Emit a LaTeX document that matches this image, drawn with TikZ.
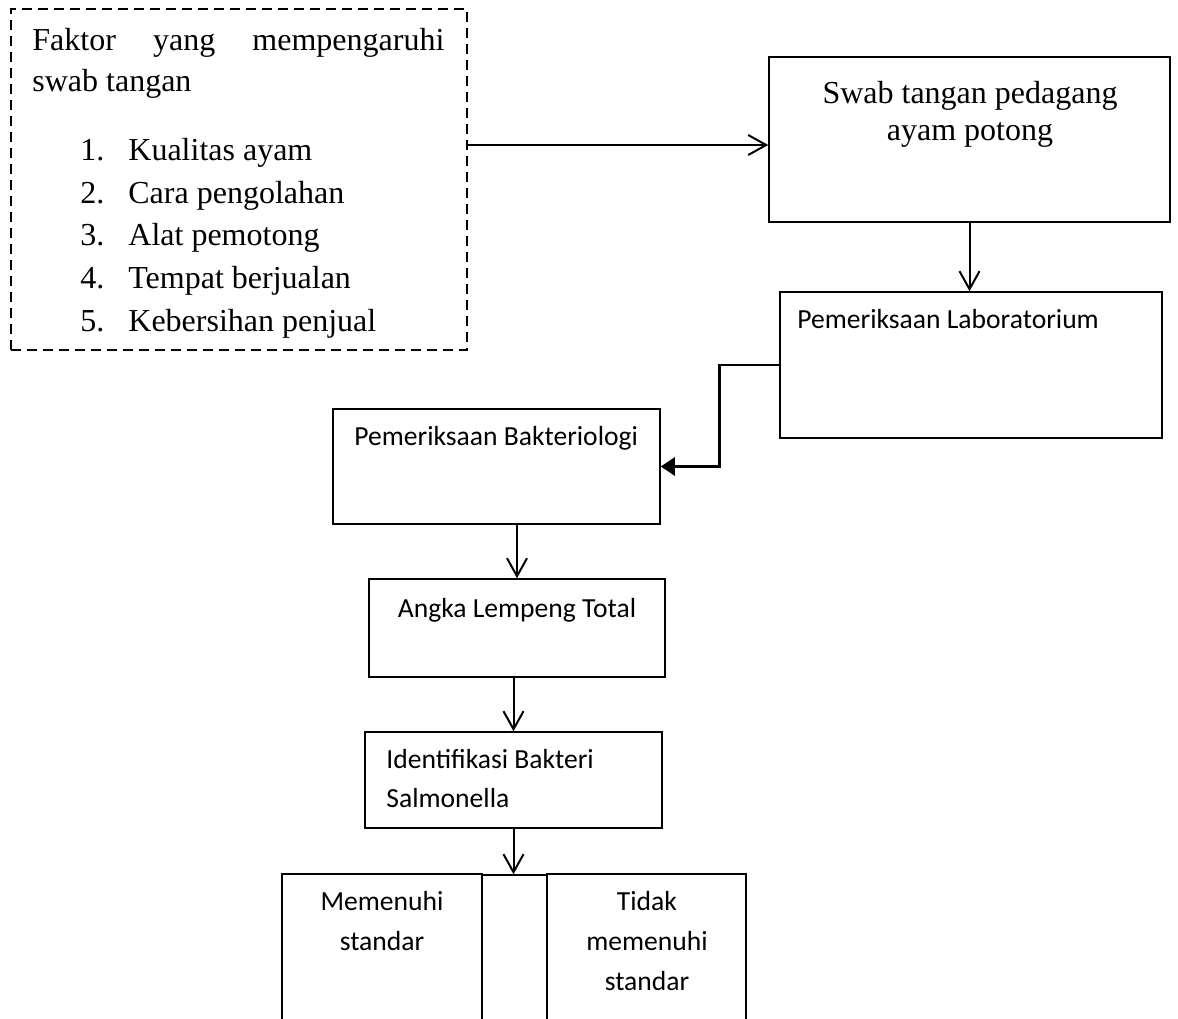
\documentclass[tikz,border=0pt]{standalone}
\usepackage{fontspec}
\setmainfont{Liberation Serif}
\newfontfamily\calibri{Carlito}
\usepackage{tikz}
\usetikzlibrary{arrows.meta}
\usetikzlibrary{fit}

\tikzset{
    box/.style={draw, line width=0.75pt, inner sep=0pt},
    dashbox/.style={draw, line width=0.8pt, dash pattern=on 5pt off 3pt, inner sep=0pt},
    serif/.style={inner sep=0pt, font=\fontsize{16}{21.3}\selectfont},
    sans/.style={inner sep=0pt, font=\calibri\fontsize{13.8}{20}\selectfont},
    arr/.style={line width=1pt, -{Straight Barb[length=9pt, width=10pt]}},
    elb/.style={line width=1.3pt, -{Triangle[length=7pt, width=9pt]}},
}

\begin{document}
\begin{tikzpicture}[x=0.5pt, y=-0.5pt]
        \useasboundingbox (0,0) rectangle (1178,1018);
        \clip (0,0) rectangle (1178,1018);
        % boxes
        \node [dashbox, fit={(11,9) (467,350)}] (fak) {};
        \node [box, fit={(769,57) (1170,222)}] (swab) {};
        \node [box, fit={(780,292) (1162,438)}] (lab) {};
        \node [box, fit={(333,409) (660,524)}] (bak) {};
        \node [box, fit={(369,579) (665,677)}] (alt) {};
        \node [box, fit={(365,732) (662,828)}] (idn) {};
        \node [box, fit={(282,874) (482,1040)}] (mem) {};
        \node [box, fit={(482,875) (547,1040)}] (mid) {};
        \node [box, fit={(547,874) (746,1040)}] (tdk) {};
        % texts (multi-line ones sit on their last line)
        \node [serif, anchor=base west, align=left, font=\fontsize{16}{20.5}\selectfont] (fakjudul) at (32,91) {\makebox[206pt][s]{Faktor yang mempengaruhi}\\swab tangan};
        \node [serif, anchor=base west, align=left] (faklist) at (80,331) {\makebox[24pt][l]{1.}Kualitas ayam\\\makebox[24pt][l]{2.}Cara pengolahan\\\makebox[24pt][l]{3.}Alat pemotong\\\makebox[24pt][l]{4.}Tempat berjualan\\\makebox[24pt][l]{5.}Kebersihan penjual};
        \node [serif, anchor=base, align=center, font=\fontsize{16}{18.5}\selectfont] (swabtxt) at (970,140) {Swab tangan pedagang\\ayam potong};
        \node [sans, anchor=base west] (labtxt) at (797,328) {Pemeriksaan Laboratorium};
        \node [sans, anchor=base west] (baktxt) at (354,445) {Pemeriksaan Bakteriologi};
        \node [sans, anchor=base] (alttxt) at (517,617) {Angka Lempeng Total};
        \node [sans, anchor=base west, align=left, font=\calibri\fontsize{13.8}{19.5}\selectfont] (idntxt) at (386,807) {Identifikasi Bakteri\\Salmonella};
        \node [sans, anchor=base, align=center] (memtxt) at (382,950) {Memenuhi\\standar};
        \node [sans, anchor=base, align=center] (tdktxt) at (647,990) {Tidak\\memenuhi\\standar};
        % arrows
        \draw [arr] (fak.east |- 0,145) -- (swab.west |- 0,145);
        \draw [arr] (swab.south) -- (swab.south |- lab.north);
        \draw [elb] (lab.west) -- ++(-60,0) |- (bak.east);
        \draw [arr] (alt.north |- bak.south) -- (alt.north);
        \draw [arr] (idn.north |- alt.south) -- (idn.north);
        \draw [arr] (idn.south) -- (idn.south |- mid.north);
    \end{tikzpicture}
\end{document}
